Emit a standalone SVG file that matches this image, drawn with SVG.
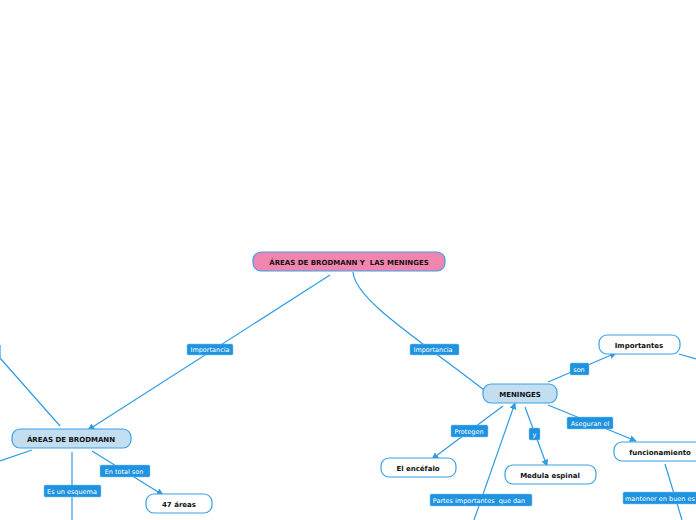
<svg xmlns="http://www.w3.org/2000/svg" width="696" height="520" viewBox="0 0 696 520">
<defs>
<marker id="ah" viewBox="0 0 10 10" refX="9" refY="5" markerWidth="7" markerHeight="7" markerUnits="userSpaceOnUse" orient="auto">
<path d="M0,0 L10,5 L0,10 z" fill="#2b9be3"/>
</marker>
<style>
.c{fill:none;stroke:#2b9be3;stroke-width:1.2}
.ca{fill:none;stroke:#2b9be3;stroke-width:1.2;marker-end:url(#ah)}
.lb rect{fill:#1f93e0;stroke:#7cc0ee;stroke-width:0.5}
.lb text{fill:#ffffff;font-family:"DejaVu Sans",Verdana,sans-serif;font-size:6.5px;text-anchor:middle;white-space:pre}
.n rect{stroke:#3aa1e8;stroke-width:1.2}
.n text{fill:#111;font-family:"DejaVu Sans",Verdana,sans-serif;font-size:7px;font-weight:bold;text-anchor:middle;white-space:pre}
.w rect{fill:#ffffff}
.b rect{fill:#c3ddf1}
.r rect{fill:#f285b0}
</style>
</defs>
<rect width="696" height="520" fill="#ffffff"/>
<g id="connectors">
<path class="ca" d="M330,275 L88,430"/>
<path class="c" d="M353,272 C355,300 420,340 484,390"/>
<path class="c" d="M0,345 L0,358 L60,426"/>
<path class="c" d="M32,450 L0,461"/>
<path class="c" d="M72,452 L72,520"/>
<path class="ca" d="M92,451 L163,495"/>
<path class="ca" d="M548,382 L616,353"/>
<path class="c" d="M679,354 L696,359"/>
<path class="ca" d="M548,405 L636,441"/>
<path class="c" d="M665,464 L682,520"/>
<path class="ca" d="M503,406 L432,459"/>
<path class="ca" d="M525,407 L547,466"/>
<path class="ca" d="M474,520 L515,403"/>
</g>
<g id="lbl1" class="lb"><rect x="187" y="344" width="46" height="11" rx="1.5"/><text x="210" y="352.3">Importancia</text></g>
<g id="lbl2" class="lb"><rect x="410" y="344" width="49" height="11" rx="1.5"/><text x="433" y="352.3">Importancia</text></g>
<g id="lbl3" class="lb"><rect x="44" y="485" width="57" height="12" rx="1.5"/><text x="72" y="493.5">Es un esquema</text></g>
<g id="lbl4" class="lb"><rect x="100" y="465" width="50" height="12" rx="1.5"/><text x="124" y="473.5">En total son</text></g>
<g id="lbl5" class="lb"><rect x="570" y="363" width="19" height="12" rx="1.5"/><text x="579" y="371.5">son</text></g>
<g id="lbl6" class="lb"><rect x="567" y="417" width="46" height="12" rx="1.5"/><text x="590" y="425.5">Aseguran el</text></g>
<g id="lbl7" class="lb"><rect x="451" y="425" width="37" height="12" rx="1.5"/><text x="469" y="433.5">Protegen</text></g>
<g id="lbl8" class="lb"><rect x="529" y="428" width="11" height="12" rx="1.5"/><text x="534.5" y="436.5">y</text></g>
<g id="lbl9" class="lb"><rect x="430" y="494" width="102" height="12" rx="1.5"/><text x="479" y="502.5" xml:space="preserve">Partes importantes  que dan</text></g>
<g id="lbl10" class="lb"><rect x="623" y="492" width="80" height="12" rx="1.5"/><text x="625" y="500.5" style="text-anchor:start">mantener en buen es</text></g>
<g id="root" class="n r"><rect x="253" y="252" width="192" height="19" rx="8"/><text x="349" y="264.5" xml:space="preserve">ÁREAS DE BRODMANN Y  LAS MENINGES</text></g>
<g id="brodmann" class="n b"><rect x="12" y="429" width="119" height="19" rx="8"/><text x="71" y="441.5">ÁREAS DE BRODMANN</text></g>
<g id="areas47" class="n w"><rect x="146" y="494" width="66" height="19" rx="8"/><text x="179" y="506.5">47 áreas</text></g>
<g id="meninges" class="n b"><rect x="483" y="384" width="74" height="19" rx="8"/><text x="520" y="396.5">MENINGES</text></g>
<g id="importantes" class="n w"><rect x="599" y="335" width="81" height="19" rx="8"/><text x="639" y="347.5">Importantes</text></g>
<g id="funcionamiento" class="n w"><rect x="614" y="442" width="94" height="19" rx="8"/><text x="660" y="454.5">funcionamiento</text></g>
<g id="encefalo" class="n w"><rect x="381" y="458" width="75" height="19" rx="8"/><text x="418" y="470.5">El encéfalo</text></g>
<g id="medula" class="n w"><rect x="505" y="465" width="91" height="19" rx="8"/><text x="550" y="477.5">Medula espinal</text></g>
</svg>
